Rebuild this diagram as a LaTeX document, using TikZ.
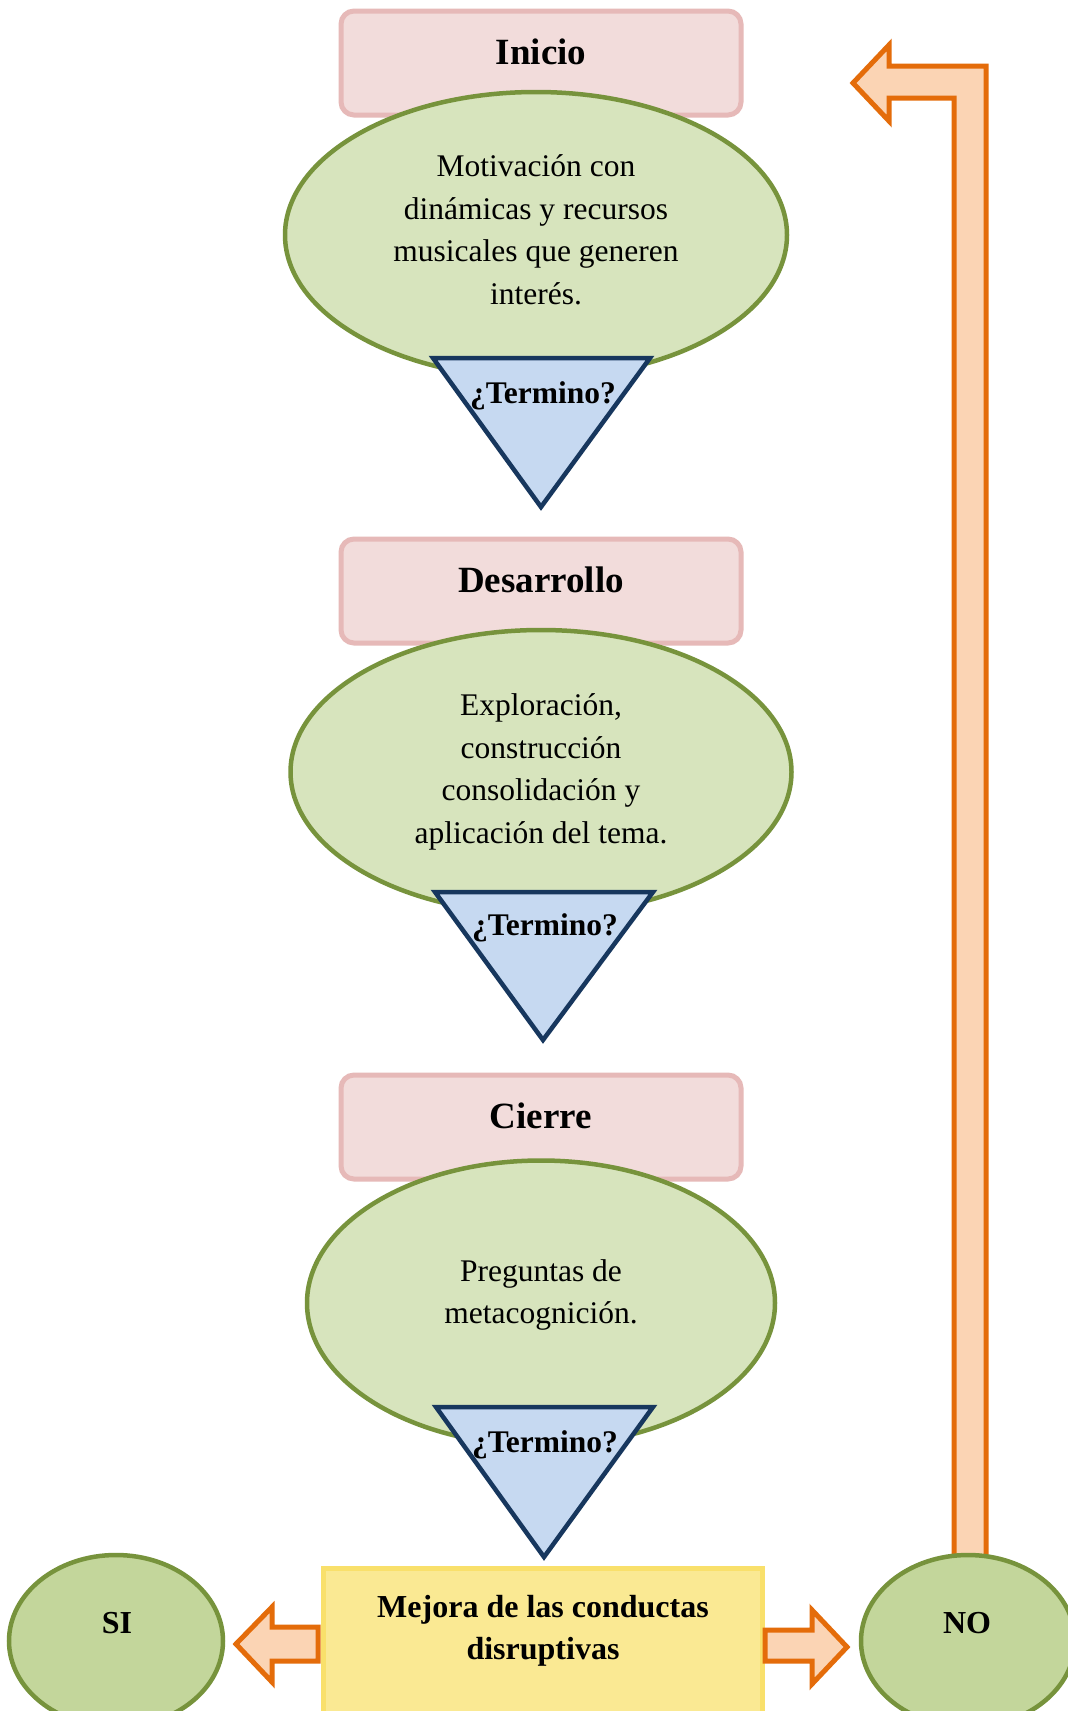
\documentclass[tikz,border=0pt]{standalone}
\usepackage{fontspec}
\setmainfont{Liberation Serif}
\usetikzlibrary{shapes.geometric}
\definecolor{pinkfill}{HTML}{F2DCDB}
\definecolor{pinkline}{HTML}{E6B9B8}
\definecolor{ellfill}{HTML}{D7E4BD}
\definecolor{ellline}{HTML}{77933C}
\definecolor{ansfill}{HTML}{C3D69B}
\definecolor{trifill}{HTML}{C6D9F1}
\definecolor{triline}{HTML}{17375E}
\definecolor{orfill}{HTML}{FBD4B4}
\definecolor{orline}{HTML}{E46C0A}
\definecolor{yelfill}{HTML}{FAE993}
\definecolor{yelline}{HTML}{F9E06B}
\begin{document}
\begin{tikzpicture}[x=1pt,y=-1pt,
  phasebox/.style={draw=pinkline,fill=pinkfill,line width=5pt,rounded corners=13pt,
    minimum width=400pt,minimum height=104pt,inner sep=0pt},
  phasetext/.style={font=\fontsize{37}{44}\selectfont\bfseries,inner sep=0pt},
  ell/.style={ellipse,draw=ellline,fill=ellfill,line width=4.5pt,inner sep=0pt},
  elltext/.style={font=\fontsize{31.5}{42.5}\selectfont,align=center,inner sep=0pt},
  tri/.style={draw=triline,fill=trifill,line width=4.5pt,line join=miter},
  tritext/.style={font=\fontsize{31.5}{36}\selectfont\bfseries,inner sep=0pt},
  ans/.style={ellipse,draw=ellline,fill=ansfill,line width=4.5pt,inner sep=0pt,
    minimum width=214pt,minimum height=172pt},
  anstext/.style={font=\fontsize{32}{38}\selectfont\bfseries,inner sep=0pt},
  bigarrow/.style={draw=orline,fill=orfill,line width=5pt,line join=miter},
  yelbox/.style={draw=yelline,fill=yelfill,line width=5pt,inner sep=0pt,
    minimum width=439pt,minimum height=190pt,anchor=north west},
  yeltext/.style={font=\fontsize{32}{42}\selectfont\bfseries,align=center,inner sep=0pt}
]
\useasboundingbox (0,0) rectangle (1068,1711);
\fill[white] (0,0) rectangle (1068,1711);

% return arrow (NO -> Inicio)
\draw[bigarrow] (954,1590) -- (954,98) -- (889,98) -- (889,121) -- (853,83)
  -- (889,45) -- (889,66) -- (986,66) -- (986,1590) -- cycle;

% Inicio
\node[phasebox] (inicio) at (541,63) {};
\node[phasetext] (iniciot) at (541,52) {Inicio};
\node[ell,minimum width=502pt,minimum height=286pt] (e1) at (536,235) {};
\node[elltext] (e1t) at (536,230) {Motivación con\\dinámicas y recursos\\musicales que generen\\interés.};
\draw[tri] (433,358) coordinate (t1a) -- (650,358) coordinate (t1b) -- (541,507) coordinate (t1c) -- cycle;
\node[tritext] (q1) at (543,396) {¿Termino?};

% Desarrollo
\node[phasebox] (desa) at (541,591) {};
\node[phasetext] (desat) at (541,580) {Desarrollo};
\node[ell,minimum width=501pt,minimum height=284pt] (e2) at (541,772) {};
\node[elltext] (e2t) at (541,772) {Exploración,\\construcción\\consolidación y\\aplicación del tema.};
\draw[tri] (435,892) coordinate (t2a) -- (653,892) coordinate (t2b) -- (543,1040) coordinate (t2c) -- cycle;
\node[tritext] (q2) at (545,928) {¿Termino?};

% Cierre
\node[phasebox] (cierre) at (541,1127) {};
\node[phasetext] (cierret) at (541,1116) {Cierre};
\node[ell,minimum width=468pt,minimum height=285pt] (e3) at (541,1303) {};
\node[elltext] (e3t) at (541,1295) {Preguntas de\\metacognición.};
\draw[tri] (436,1407) coordinate (t3a) -- (653,1407) coordinate (t3b) -- (544,1557) coordinate (t3c) -- cycle;
\node[tritext] (q3) at (545,1445) {¿Termino?};

% result
\node[yelbox] (mejora) at (321,1566) {};
\node[yeltext] (mejorat) at (543,1631) {Mejora de las conductas\\disruptivas};

\draw[bigarrow] (318,1627) -- (272,1627) -- (272,1607) -- (236,1644) -- (272,1682)
  -- (272,1661) -- (318,1661) -- cycle;
\draw[bigarrow] (765,1630) -- (812,1630) -- (812,1610) -- (847,1647) -- (812,1684)
  -- (812,1661) -- (765,1661) -- cycle;

\node[ans] (si) at (116,1641) {};
\node[anstext] (sit) at (117,1623) {SI};
\node[ans] (no) at (968,1641) {};
\node[anstext] (not) at (967,1623) {NO};
\end{tikzpicture}
\end{document}
